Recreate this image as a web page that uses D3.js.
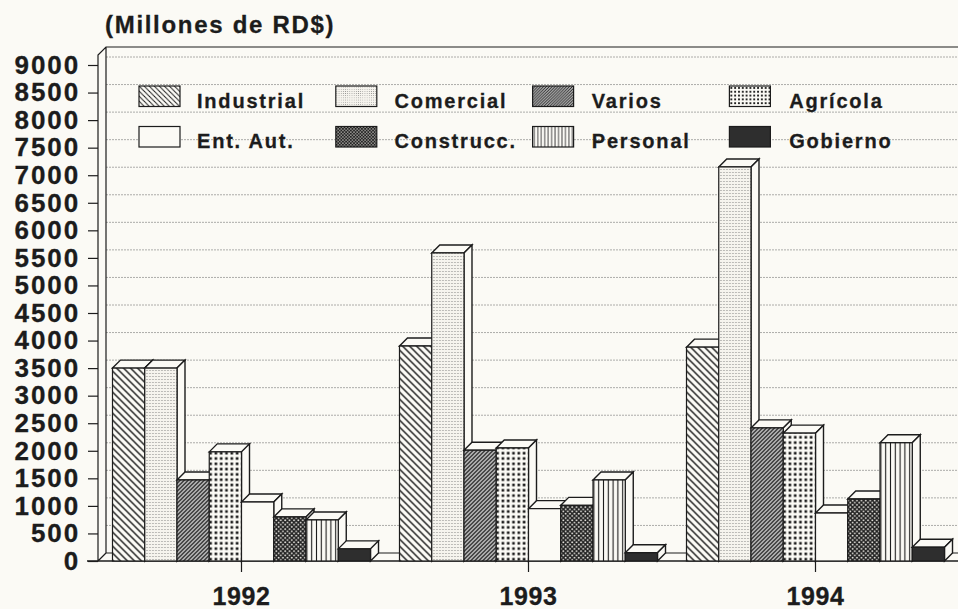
<!DOCTYPE html>
<html>
<head>
<meta charset="utf-8">
<script src="https://cdn.jsdelivr.net/npm/d3@7"></script>
<style>
    html, body { margin: 0; padding: 0; background: #fbfaf5; overflow: hidden; }
    svg { display: block; }
    text { font-family: "Liberation Sans", Arial, sans-serif; font-weight: bold; fill: #1c1c1c; stroke: #1c1c1c; stroke-width: 0.3px; }
    .ejeY text { font-size: 26px; letter-spacing: 1.9px; }
    .ejeX text { font-size: 25px; letter-spacing: 0.6px; }
    .leyenda text { font-size: 20px; letter-spacing: 1.8px; }
</style>
</head>
<body>
<div id="chart"></div>
<script>
// Datos
const years = ["1992", "1993", "1994"];
const categories = ["Industrial", "Comercial", "Varios", "Agrícola", "Ent. Aut.", "Construcc.", "Personal", "Gobierno"];
const values1992 = [3500, 3500, 1470, 1980, 1070, 800, 745, 220];
const values1993 = [3900, 5590, 2010, 2050, 950, 1010, 1470, 150];
const values1994 = [3880, 7150, 2415, 2320, 870, 1125, 2145, 250];
const yTicks = d3.range(0, 9001, 500);

const valuesByYear = { "1992": values1992, "1993": values1993, "1994": values1994 };

const w = 958;
const h = 609;
const depth = 8; // profundidad 3D de barras y pared
const paper = "#fbfaf5";
const ink = "#1c1c1c";

const svg = d3.select("#chart").append("svg")
    .attr("width", w)
    .attr("height", h);

// Tramas: una para las barras (p) y otra más densa para la leyenda (l)
const defs = svg.append("defs");

function addPattern(n, size, bg, draw) {
    [["p", 1], ["l", 0.72]].forEach(([prefix, scale]) => {
        const p = defs.append("pattern")
            .attr("id", prefix + n)
            .attr("patternUnits", "userSpaceOnUse")
            .attr("patternTransform", `scale(${scale})`)
            .attr("width", size)
            .attr("height", size);
        p.append("rect").attr("width", size).attr("height", size).attr("fill", bg);
        draw(p);
    });
}

addPattern(0, 7, paper, p => {
    p.append("path")
        .attr("d", "M-1,-1L8,8M-1,6L1,8M6,-1L8,1")
        .attr("stroke", ink).attr("stroke-width", 1.4);
});
addPattern(1, 3, "#f6f4ee", p => {
    p.append("circle").attr("cx", 1.5).attr("cy", 1.5).attr("r", 0.6).attr("fill", "#777");
});
addPattern(2, 4, "#ddd", p => {
    p.append("path")
        .attr("d", "M-1,5L5,-1M-1,1L1,-1M3,5L5,3")
        .attr("stroke", ink).attr("stroke-width", 1.5);
});
addPattern(3, 5.3, paper, p => {
    p.append("rect").attr("x", 1.4).attr("y", 1.4).attr("width", 2.6).attr("height", 2.6).attr("fill", ink);
});
addPattern(4, 4, paper, p => {});
addPattern(5, 4.4, "#222", p => {
    p.append("circle").attr("cx", 1.1).attr("cy", 1.1).attr("r", 0.95).attr("fill", "#e8e6e0");
    p.append("circle").attr("cx", 3.3).attr("cy", 3.3).attr("r", 0.95).attr("fill", "#e8e6e0");
});
addPattern(6, 4.8, paper, p => {
    p.append("path").attr("d", "M2.4,0V4.8").attr("stroke", ink).attr("stroke-width", 1.1);
});
addPattern(7, 4, "#2e2e2e", p => {});

// Escalas
const y = d3.scaleLinear().domain([0, 9000]).range([561, 65]);
const x0 = d3.scaleBand().domain(years).range([98, 959]).paddingInner(0.101).paddingOuter(0.0505);
const x1 = d3.scaleBand().domain(categories).range([0, x0.bandwidth()]);

const backLeft = 98 + depth;
const baseY = y(0);

// Rejilla en la pared del fondo
svg.append("g").selectAll("line")
    .data(yTicks.slice(1))
    .enter()
    .append("line")
    .attr("x1", backLeft)
    .attr("x2", w)
    .attr("y1", d => y(d) - depth)
    .attr("y2", d => y(d) - depth)
    .attr("stroke", "#a3a3a0")
    .attr("stroke-width", 0.9)
    .attr("stroke-dasharray", "2 1");

// Marco: pared izquierda, borde superior y suelo
svg.append("path")
    .attr("d", `M98,${baseY}L98,55L${backLeft},47L${w},47M${backLeft},47L${backLeft},${baseY - depth}L${w},${baseY - depth}M98,${baseY}L${backLeft},${baseY - depth}`)
    .attr("fill", "none")
    .attr("stroke", ink)
    .attr("stroke-width", 1.2);

// Ejes
const yAxis = d3.axisLeft(y).tickValues(yTicks).tickSize(10).tickPadding(8).tickFormat(d3.format("d"));
const gy = svg.append("g").attr("class", "ejeY").attr("transform", "translate(98,0)").call(yAxis);
gy.select(".domain").remove();
gy.selectAll("line").attr("stroke", ink).attr("stroke-width", 1.2);

const xAxis = d3.axisBottom(x0).tickSize(11).tickPadding(15);
const gx = svg.append("g").attr("class", "ejeX").attr("transform", `translate(0,${baseY})`).call(xAxis);
gx.select(".domain").remove();
gx.selectAll("line").attr("stroke", ink).attr("stroke-width", 1.2);

svg.append("line")
    .attr("x1", 87).attr("x2", w)
    .attr("y1", baseY).attr("y2", baseY)
    .attr("stroke", ink).attr("stroke-width", 1.3);

// Barras, de izquierda a derecha para que se tapen bien
const groups = svg.append("g").selectAll("g")
    .data(years)
    .enter()
    .append("g")
    .attr("transform", d => `translate(${x0(d)},0)`);

const bars = groups.selectAll("g")
    .data(yr => categories.map((c, i) => ({ cat: c, idx: i, value: valuesByYear[yr][i] })))
    .enter()
    .append("g");

bars.append("path")
    .attr("d", d => {
        const l = x1(d.cat), r = l + x1.bandwidth(), t = y(d.value);
        return `M${l},${t}L${l + depth},${t - depth}L${r + depth},${t - depth}L${r},${t}Z`;
    })
    .attr("fill", paper)
    .attr("stroke", ink)
    .attr("stroke-width", 1.4);

bars.append("path")
    .attr("d", d => {
        const r = x1(d.cat) + x1.bandwidth(), t = y(d.value);
        return `M${r},${t}L${r + depth},${t - depth}L${r + depth},${baseY - depth}L${r},${baseY}Z`;
    })
    .attr("fill", paper)
    .attr("stroke", ink)
    .attr("stroke-width", 1.4);

bars.append("rect")
    .attr("x", d => x1(d.cat))
    .attr("y", d => y(d.value))
    .attr("width", x1.bandwidth())
    .attr("height", d => baseY - y(d.value))
    .attr("fill", d => `url(#p${d.idx})`)
    .attr("stroke", ink)
    .attr("stroke-width", 1.2);

// Leyenda
const legend = svg.append("g").attr("class", "leyenda").selectAll("g")
    .data(categories)
    .enter()
    .append("g")
    .attr("transform", (d, i) => `translate(${139 + 196.8 * (i % 4)},${86 + 40.5 * Math.floor(i / 4)})`);

legend.append("rect")
    .attr("width", 41)
    .attr("height", 20.5)
    .attr("fill", (d, i) => `url(#l${i})`)
    .attr("stroke", ink)
    .attr("stroke-width", 1.2);

legend.append("text")
    .attr("x", (d, i) => 58 + 0.6 * (i % 4))
    .attr("y", 21.5)
    .text(d => d);

// Unidad
svg.append("text")
    .attr("x", 105)
    .attr("y", 33)
    .style("font-size", "24px")
    .style("letter-spacing", "1.7px")
    .text("(Millones de RD$)");
</script>
</body>
</html>
